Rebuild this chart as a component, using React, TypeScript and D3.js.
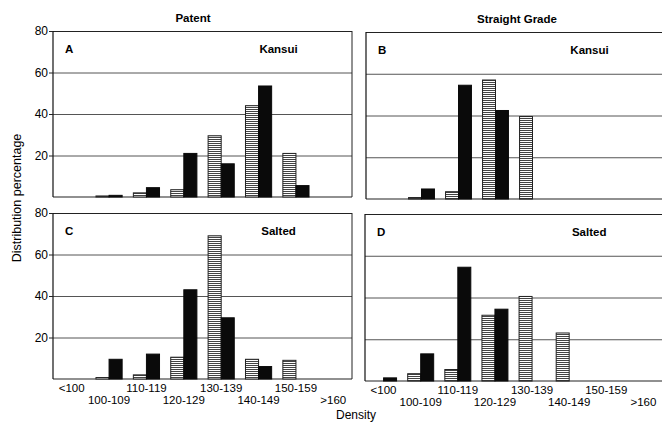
import React from 'react';
import * as d3 from 'd3';

// density classes on the x axis
const categories = ['<100', '100-109', '110-119', '120-129', '130-139', '140-149', '150-159', '>160'];
const yTicks = [20, 40, 60, 80];

// distribution percentage, hatched = first bar of each pair, black = second
const patentKansuiHatched = [0, 0.5, 2, 3.5, 29.5, 44, 21, 0];
const patentKansuiBlack = [0, 0.8, 4.5, 21, 16, 53.5, 5.5, 0];
const straightKansuiHatched = [0, 0.7, 3.5, 57, 39.5, 0, 0, 0];
const straightKansuiBlack = [0, 4.8, 54.5, 42.4, 0, 0, 0, 0];
const patentSaltedHatched = [0, 0.7, 2, 10.5, 69, 9.5, 9, 0];
const patentSaltedBlack = [0, 9.5, 12, 43, 29.5, 6, 0, 0];
const straightSaltedHatched = [0, 3.5, 5.5, 31.5, 40.5, 23, 0, 0];
const straightSaltedBlack = [1.5, 13, 54.5, 34.4, 0, 0, 0, 0];

const FONT = '"Liberation Sans", Arial, Helvetica, sans-serif';

interface PanelProps {
    letter: string;
    noodle: string;
    left: number;
    top: number;
    width: number;
    height: number;
    hatched: number[];
    black: number[];
    yLabels: boolean;
    xLabels: boolean;
    rightBorder: boolean;
}

const Panel: React.FC<PanelProps> = (p) => {
    const x = d3.scaleBand().domain(categories).range([0, p.width]);
    const y = d3.scaleLinear().domain([0, 80]).range([p.height, 0]);
    const bw = x.bandwidth() * 0.35;

    return (
        <g transform={`translate(${p.left},${p.top})`}>
            {yTicks.map((t) => (
                <line key={t} x1={0} x2={p.width} y1={y(t) + 0.5} y2={y(t) + 0.5}
                    stroke={t === 80 ? '#222' : '#555'} strokeWidth={1} />
            ))}
            <line x1={0} x2={p.width} y1={y(0)} y2={y(0)} stroke="#222" strokeWidth={1.2} />
            <line x1={0} x2={0} y1={0} y2={p.height} stroke="#111" strokeWidth={1.2} />
            {p.rightBorder && (
                <line x1={p.width} x2={p.width} y1={0} y2={p.height} stroke="#222" strokeWidth={1} />
            )}
            {p.yLabels && yTicks.map((t) => (
                <g key={t}>
                    <line x1={-4} x2={0} y1={y(t) + 0.5} y2={y(t) + 0.5} stroke="#222" />
                    <text x={-5} y={y(t) + 4} textAnchor="end" fontSize={12}>{t}</text>
                </g>
            ))}
            {categories.map((c, i) => {
                const cx = x(c)! + x.bandwidth() / 2;
                return (
                    <g key={c}>
                        {p.hatched[i] > 0 && (
                            <rect x={cx - bw} y={y(p.hatched[i])} width={bw}
                                height={p.height - y(p.hatched[i])}
                                fill="url(#hatch)" stroke="#222" strokeWidth={1} />
                        )}
                        {p.black[i] > 0 && (
                            <rect x={cx} y={y(p.black[i])} width={bw}
                                height={p.height - y(p.black[i])}
                                fill="#0a0a0a" stroke="#0a0a0a" strokeWidth={1} />
                        )}
                        {p.xLabels && (
                            <text x={cx} y={p.height + (i % 2 === 0 ? 13 : 25)}
                                textAnchor="middle" fontSize={11.5}>{c}</text>
                        )}
                    </g>
                );
            })}
            <text x={12} y={21.5} fontSize={11.5} fontWeight="bold">{p.letter}</text>
            <text x={x('140-149')! + x.bandwidth() / 2 + 20} y={21.5} textAnchor="middle"
                fontSize={11.5} fontWeight="bold">{p.noodle}</text>
        </g>
    );
};

const App: React.FC = () => {
    return (
        <svg width={662} height={423} style={{ position: 'absolute', left: 0, top: 0, background: '#fff' }}
            fontFamily={FONT}>
            <defs>
                <pattern id="hatch" width={4} height={2} patternUnits="userSpaceOnUse">
                    <rect width={4} height={2} fill="#fff" />
                    <rect width={4} height={1} fill="#444" />
                </pattern>
            </defs>
            <rect width={662} height={423} fill="#fff" />
            <text x={193} y={22} textAnchor="middle" fontSize={11.5} fontWeight="bold">Patent</text>
            <text x={517} y={23} textAnchor="middle" fontSize={11.5} fontWeight="bold">Straight Grade</text>

            <Panel letter="A" noodle="Kansui" left={53} top={31} width={299} height={166}
                hatched={patentKansuiHatched} black={patentKansuiBlack}
                yLabels xLabels={false} rightBorder />
            <Panel letter="B" noodle="Kansui" left={366} top={32} width={296} height={167}
                hatched={straightKansuiHatched} black={straightKansuiBlack}
                yLabels={false} xLabels={false} rightBorder={false} />
            <Panel letter="C" noodle="Salted" left={53} top={213} width={299} height={166}
                hatched={patentSaltedHatched} black={patentSaltedBlack}
                yLabels xLabels rightBorder />
            <Panel letter="D" noodle="Salted" left={365} top={214} width={297} height={167}
                hatched={straightSaltedHatched} black={straightSaltedBlack}
                yLabels={false} xLabels rightBorder={false} />

            <text x={356} y={419} textAnchor="middle" fontSize={12}>Density</text>
            <text transform="translate(21,198) rotate(-90)" textAnchor="middle" fontSize={12.5}>
                Distribution percentage
            </text>
        </svg>
    );
};

export default App;
